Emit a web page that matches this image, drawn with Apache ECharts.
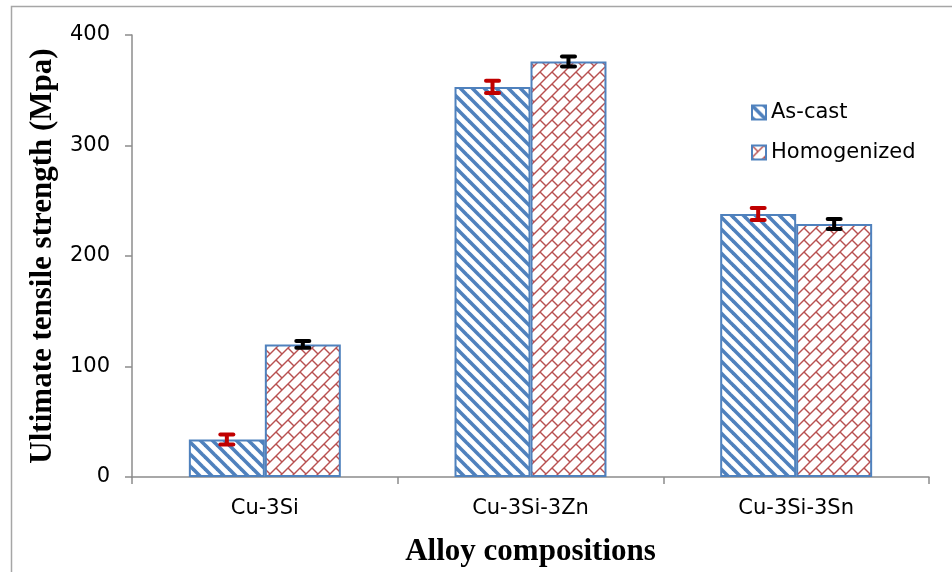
<!DOCTYPE html>
<html>
<head>
<meta charset="utf-8">
<script src="https://cdn.jsdelivr.net/npm/echarts@6/dist/echarts.min.js"></script>
<style>
html,body{margin:0;padding:0;background:#fff;}
#chart{width:952px;height:572px;}
</style>
</head>
<body>
<div id="chart"></div>
<script>
var categories = ['Cu-3Si', 'Cu-3Si-3Zn', 'Cu-3Si-3Sn'];
var seriesNames = ['As-cast', 'Homogenized'];
var asCast = [34, 353, 238];
var homogenized = [120, 376, 229];
var asCastErr = [4.5, 5.5, 5.5];
var homogenizedErr = [3, 4.5, 4.5];
var yTicks = [0, 100, 200, 300, 400];

function stripePattern() {
  var c = document.createElement('canvas');
  c.width = 12; c.height = 12;
  var g = c.getContext('2d');
  g.fillStyle = '#ffffff';
  g.fillRect(0, 0, 12, 12);
  g.strokeStyle = '#4F81BD';
  g.lineWidth = 3.6;
  for (var k = -1; k <= 1; k++) {
    g.beginPath();
    g.moveTo(-2 + k * 12, -2);
    g.lineTo(14 + k * 12, 14);
    g.stroke();
  }
  return c;
}
function brickPattern() {
  var c = document.createElement('canvas');
  c.width = 24; c.height = 24;
  var g = c.getContext('2d');
  g.fillStyle = '#ffffff';
  g.fillRect(0, 0, 24, 24);
  g.strokeStyle = '#B85050';
  g.lineWidth = 1.4;
  var sums = [0, 12, 24, 36, 48];
  sums.forEach(function (s) {
    g.beginPath();
    g.moveTo(-2, s + 2);
    g.lineTo(s + 2, -2);
    g.stroke();
  });
  var segs = [[0,0,6,6],[12,12,18,18],[0,12,6,18],[12,0,18,6],[24,0,30,6],[0,24,6,30],[24,12,30,18],[12,24,18,30],[24,24,30,30]];
  segs.forEach(function (s) {
    g.beginPath();
    g.moveTo(s[0], s[1]);
    g.lineTo(s[2], s[3]);
    g.stroke();
  });
  return c;
}

var barFrac = 0.572;
function errItem(values, errs, side, color) {
  return {
    type: 'custom',
    name: seriesNames[side] + ' error',
    z: 10,
    silent: true,
    data: values.map(function (v, i) { return [i, v - errs[i], v + errs[i]]; }),
    encode: { x: 0, y: [1, 2] },
    renderItem: function (params, api) {
      var i = api.value(0);
      var lo = api.coord([i, api.value(1)]);
      var hi = api.coord([i, api.value(2)]);
      var bw = api.size([1, 0])[0] * barFrac / 2;
      var x = lo[0] + (side === 0 ? -bw / 2 : bw / 2);
      var capHalf = 6.5;
      var st = { stroke: color, lineWidth: 4, lineCap: 'round' };
      return {
        type: 'group',
        children: [
          { type: 'line', shape: { x1: x, y1: lo[1], x2: x, y2: hi[1] }, style: { stroke: color, lineWidth: 4 } },
          { type: 'line', shape: { x1: x - capHalf, y1: lo[1], x2: x + capHalf, y2: lo[1] }, style: st },
          { type: 'line', shape: { x1: x - capHalf, y1: hi[1], x2: x + capHalf, y2: hi[1] }, style: st }
        ]
      };
    }
  };
}

var chart = echarts.init(document.getElementById('chart'), null, { renderer: 'canvas' });
var axisColor = '#8C8C8C';
chart.setOption({
  backgroundColor: '#ffffff',
  animation: false,
  grid: { left: 132, right: 23, top: 35, bottom: 92 },
  graphic: [{
    type: 'rect', shape: { x: 11.5, y: 6.5, width: 960, height: 620 },
    style: { fill: 'none', stroke: '#A6A6A6', lineWidth: 1.5 }, silent: true, z: -10
  }],
  legend: {
    data: seriesNames,
    orient: 'vertical',
    left: 746,
    top: 97,
    itemWidth: 14,
    itemHeight: 14,
    itemGap: 19,
    icon: 'rect',
    textStyle: { fontFamily: 'DejaVu Sans', fontSize: 21, color: '#000' }
  },
  xAxis: {
    type: 'category',
    data: categories,
    boundaryGap: true,
    name: 'Alloy compositions',
    nameLocation: 'middle',
    nameGap: 59,
    nameTextStyle: { fontFamily: 'Liberation Serif', fontWeight: 'bold', fontSize: 31, color: '#000' },
    axisLine: { lineStyle: { color: axisColor, width: 1.5 } },
    axisTick: { show: true, length: 7, alignWithLabel: false, lineStyle: { color: axisColor, width: 1.5 } },
    axisLabel: { margin: 21, fontFamily: 'DejaVu Sans', fontSize: 21, color: '#000' }
  },
  yAxis: {
    type: 'value',
    min: 0,
    max: 400,
    interval: 100,
    name: 'Ultimate tensile strength (Mpa)',
    nameLocation: 'middle',
    nameGap: 74,
    nameTextStyle: { fontFamily: 'Liberation Serif', fontWeight: 'bold', fontSize: 31, color: '#000' },
    splitLine: { show: false },
    axisLine: { show: true, lineStyle: { color: axisColor, width: 1.5 } },
    axisTick: { show: true, length: 7, lineStyle: { color: axisColor, width: 1.5 } },
    axisLabel: {
      margin: 22, fontFamily: 'DejaVu Sans', fontSize: 21, color: '#000',
      formatter: function (v) { return yTicks.indexOf(v) >= 0 ? String(v) : ''; }
    }
  },
  series: [
    {
      type: 'bar', name: seriesNames[0], data: asCast,
      barGap: '0%', barCategoryGap: '42.8%',
      itemStyle: { color: { image: stripePattern(), repeat: 'repeat' }, borderColor: '#4F81BD', borderWidth: 2 }
    },
    {
      type: 'bar', name: seriesNames[1], data: homogenized,
      barGap: '0%', barCategoryGap: '42.8%',
      itemStyle: { color: { image: brickPattern(), repeat: 'repeat' }, borderColor: '#4F81BD', borderWidth: 2 }
    },
    errItem(asCast, asCastErr, 0, '#C00000'),
    errItem(homogenized, homogenizedErr, 1, '#000000')
  ]
});
</script>
</body>
</html>
